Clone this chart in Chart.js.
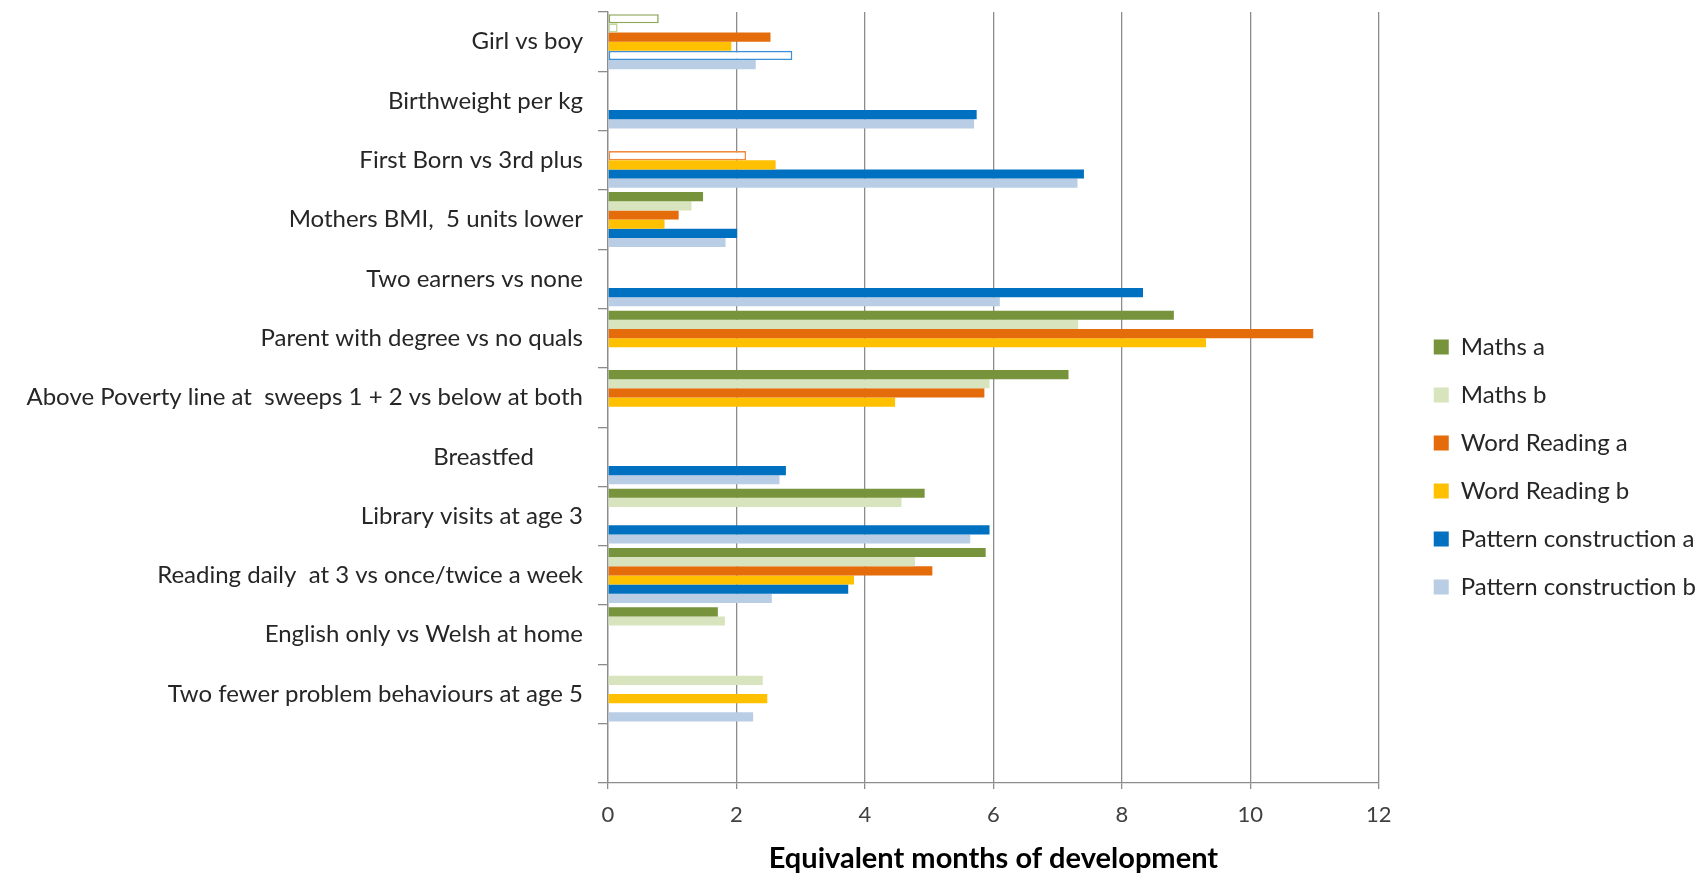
<!DOCTYPE html>
<html>
<head>
<meta charset="utf-8">
<script src="https://cdn.jsdelivr.net/npm/chart.js@4.4.1/dist/chart.umd.min.js"></script>
<style>
  html, body { margin: 0; padding: 0; background: #ffffff; }
  #wrap { width: 1706px; height: 876px; position: relative; }
</style>
</head>
<body>
<div id="wrap"><canvas id="c"></canvas></div>
<script>
// ---------- DATA ----------
const categories = [
  "Girl vs boy",
  "Birthweight per kg",
  "First Born vs 3rd plus",
  "Mothers BMI,  5 units lower",
  "Two earners vs none",
  "Parent with degree vs no quals",
  "Above Poverty line at  sweeps 1 + 2 vs below at both",
  "Breastfed        ",
  "Library visits at age 3",
  "Reading daily  at 3 vs once/twice a week",
  "English only vs Welsh at home",
  "Two fewer problem behaviours at age 5",
  ""
];
const seriesNames = ["Maths a", "Maths b", "Word Reading a", "Word Reading b", "Pattern construction a", "Pattern construction b"];
const mathsA   = [0.79, null, null, 1.48, null, 8.81, 7.17, null, 4.93, 5.88, 1.71, null, null];
const mathsB   = [0.15, null, null, 1.30, null, 7.32, 5.94, null, 4.57, 4.78, 1.82, 2.41, null];
const wordA    = [2.53, null, 2.15, 1.10, null, 10.98, 5.86, null, null, 5.05, null, null, null];
const wordB    = [1.92, null, 2.61, 0.88, null, 9.31, 4.47, null, null, 3.83, null, 2.48, null];
const patternA = [2.87, 5.74, 7.41, 2.01, 8.33, null, null, 2.77, 5.94, 3.74, null, null, null];
const patternB = [2.30, 5.70, 7.31, 1.83, 6.10, null, null, 2.67, 5.64, 2.55, null, 2.26, null];
// indices of categories where the estimate is shown as an outline only (not significant)
const outlineOnlyMathsA = [0];
const outlineOnlyMathsB = [0];
const outlineOnlyWordA = [2];
const outlineOnlyWordB = [];
const outlineOnlyPatternA = [0];
const outlineOnlyPatternB = [];
const xTicks = [0, 2, 4, 6, 8, 10, 12];
const xTitle = "Equivalent months of development";

// ---------- STYLE ----------
const seriesColors = ["#77933C", "#D7E4BD", "#E46C0A", "#FFC000", "#0070C0", "#B9CDE5"];
const outlineColors = ["#8EA85A", "#C3D69B", "#F08A3E", "#FFC000", "#3D8FD6", "#95B3D7"];
const FONT = "Lato, 'Open Sans', 'DejaVu Sans', sans-serif";
const gridGray = "#8C8C8C";

const seriesValues = [mathsA, mathsB, wordA, wordB, patternA, patternB];
const outlineOnly = [outlineOnlyMathsA, outlineOnlyMathsB, outlineOnlyWordA, outlineOnlyWordB, outlineOnlyPatternA, outlineOnlyPatternB];

const datasets = seriesNames.map((name, i) => ({
  label: name,
  data: seriesValues[i],
  backgroundColor: (ctx) => outlineOnly[i].includes(ctx.dataIndex) ? "#FFFFFF" : seriesColors[i],
  borderColor: (ctx) => outlineOnly[i].includes(ctx.dataIndex) ? outlineColors[i] : seriesColors[i],
  borderWidth: (ctx) => outlineOnly[i].includes(ctx.dataIndex) ? 1.6 : 0,
  borderSkipped: false,
  categoryPercentage: 0.927,
  barPercentage: 1.0
}));

function draw() {
  new Chart(document.getElementById("c"), {
    type: "bar",
    data: { labels: categories, datasets },
    options: {
      indexAxis: "y",
      responsive: true,
      maintainAspectRatio: false,
      animation: false,
      devicePixelRatio: 1,
      layout: { padding: { top: 12, left: 10, right: 0, bottom: 0 } },
      plugins: {
        tooltip: { enabled: false },
        legend: {
          position: "right",
          align: "center",
          maxWidth: 420,
          title: { display: true, text: " ", font: { size: 2 }, padding: { top: 43.6, bottom: 0 } },
          labels: {
            boxWidth: 15,
            boxHeight: 15,
            padding: 24,
            color: "#262626",
            font: { family: FONT, size: 24 },
            generateLabels: (chart) => chart.data.datasets.map((ds, i) => ({
              text: ds.label,
              fillStyle: seriesColors[i],
              strokeStyle: seriesColors[i],
              lineWidth: 0,
              hidden: false,
              datasetIndex: i,
              fontColor: "#262626"
            }))
          }
        }
      },
      scales: {
        y: {
          type: "category",
          position: "left",
          offset: true,
          grid: { display: true, drawOnChartArea: false, drawTicks: true, tickLength: 10, color: gridGray, lineWidth: 1.3, offset: true },
          border: { display: true, color: gridGray, width: 1.3 },
          ticks: { color: "#262626", font: { family: FONT, size: 24 }, padding: 15, autoSkip: false },
          afterFit: (s) => { s.width = 608 - 10; s.paddingTop = 0; s.paddingBottom = 0; }
        },
        gap: {
          type: "category",
          axis: "y",
          position: "right",
          display: true,
          grid: { display: false, drawTicks: false },
          border: { display: false },
          ticks: { display: false },
          afterFit: (s) => { s.width = 31; s.paddingTop = 0; s.paddingBottom = 0; }
        },
        x: {
          type: "linear",
          position: "bottom",
          min: 0,
          max: 12,
          afterBuildTicks: (s) => { s.ticks = xTicks.map(v => ({ value: v })); },
          grid: { color: gridGray, lineWidth: 1.3, drawTicks: true, tickLength: 6 },
          border: { display: true, color: gridGray, width: 1.3 },
          ticks: { color: "#404040", font: { family: FONT, size: 22 }, padding: 13 },
          title: {
            display: true,
            text: xTitle,
            color: "#000000",
            font: { family: FONT, size: 29, weight: "bold" },
            padding: { top: 0, bottom: 0 }
          },
          afterFit: (s) => { s.height = 876 - 783; }
        }
      }
    }
  });
}
if (document.fonts && document.fonts.load) {
  Promise.all([document.fonts.load("24px Lato"), document.fonts.load("bold 29px Lato")]).then(draw, draw);
} else { draw(); }
</script>
</body>
</html>
